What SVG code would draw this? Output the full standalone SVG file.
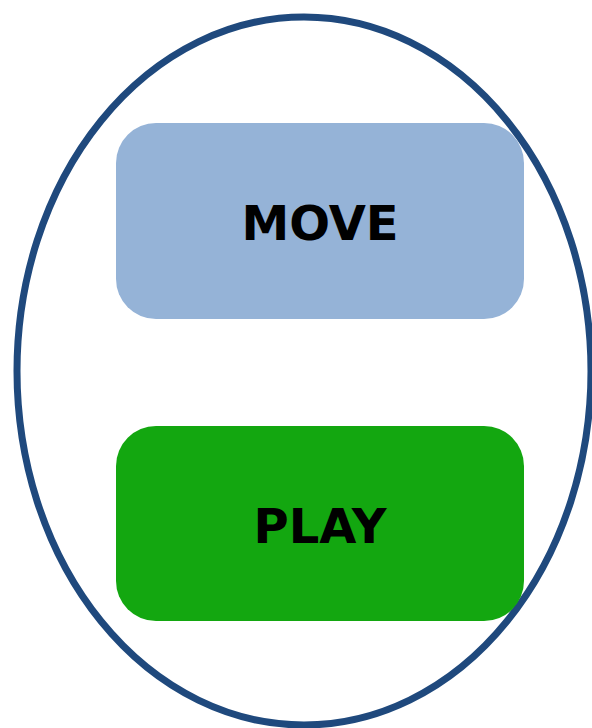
<svg xmlns="http://www.w3.org/2000/svg" width="592" height="728" viewBox="0 0 592 728">
<style>
.lbl{font-family:"DejaVu Sans",Verdana,sans-serif;font-weight:bold;font-size:48px;fill:#000;text-anchor:middle}
</style>
<rect width="592" height="728" fill="#fff"/>
<g id="boundary"><ellipse cx="304" cy="371" rx="287" ry="354" fill="none" stroke="#1f497d" stroke-width="7"/></g>
<g id="move"><rect x="116" y="123" width="408" height="196" rx="40" fill="#95b3d7"/><text class="lbl" x="320" y="240">MOVE</text></g>
<g id="play"><rect x="116" y="426" width="408" height="195" rx="40" fill="#13a710"/><text class="lbl" x="320" y="543">PLAY</text></g>
<g id="connectors"/>
</svg>
